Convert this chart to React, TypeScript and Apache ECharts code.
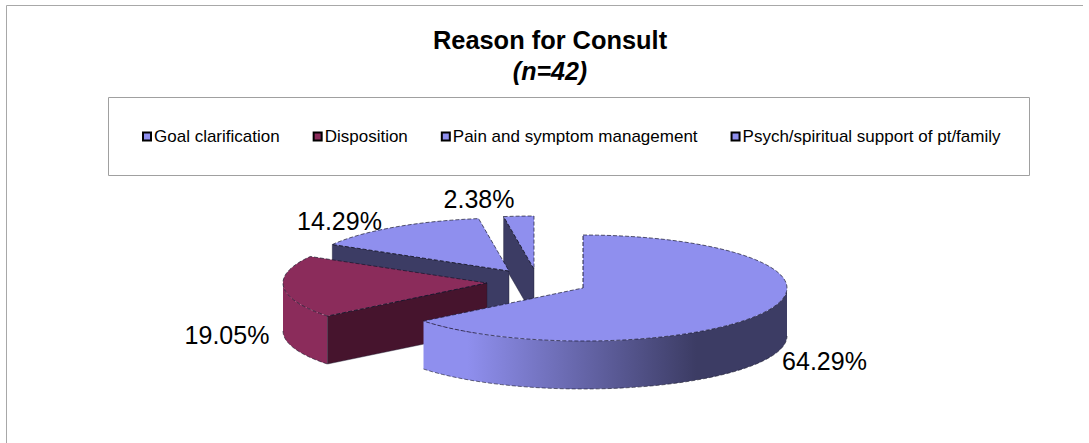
import React, { useEffect, useRef } from "react";
import * as echarts from "echarts";

const categories = [
  "Goal clarification",
  "Disposition",
  "Pain and symptom management",
  "Psych/spiritual support of pt/family",
];
const counts = [27, 8, 6, 1];
const topColors = ["#8f8fee", "#8b2c5b", "#8f8fee", "#8f8fee"];
const faceColors = ["#3c3c64", "#46142d", "#3c3c64", "#3c3c64"];

// Layout of the tilted pie
const apexes = [[583, 288], [487, 283], [509, 271], [534, 269]];
const labelAnchors = [[824.5, 361], [227, 335], [339.5, 221], [479, 199]];
const RX = 204;
const RY = 53;
const DEPTH = 48;
const FONT = "Liberation Sans, Arial, sans-serif";

const total = counts.reduce((a, b) => a + b, 0);
const startAngles = counts.map((_, i) =>
  (counts.slice(0, i).reduce((a, b) => a + b, 0) / total) * 360
);

function rim(cx: number, cy: number, deg: number): number[] {
  const t = (deg * Math.PI) / 180;
  return [cx + RX * Math.sin(t), cy - RY * Math.cos(t)];
}

function arcPts(cx: number, cy: number, a: number, b: number): number[][] {
  const n = Math.max(2, Math.ceil(Math.abs(b - a) / 2));
  const out: number[][] = [];
  for (let k = 0; k <= n; k++) out.push(rim(cx, cy, a + ((b - a) * k) / n));
  return out;
}

function sliceRenderer(i: number) {
  return () => {
    const [cx, cy] = apexes[i];
    const a = startAngles[i];
    const b = a + (counts[i] / total) * 360;
    const children: any[] = [];
    const stroke = "rgba(20,20,40,0.85)";

    // wall of the outer rim, only where it faces the viewer (90..270)
    const wa = Math.max(a, 90);
    const wb = Math.min(b, 270);
    if (wb > wa) {
      const top = arcPts(cx, cy, wa, wb);
      const bottom = top.map(([x, y]) => [x, y + DEPTH]).reverse();
      const xs = top.map((p) => p[0]);
      const span = Math.max(...xs) - Math.min(...xs);
      const isLit = span > 200;
      children.push({
        type: "polygon",
        shape: { points: top.concat(bottom) },
        style: {
          fill: isLit
            ? {
                type: "linear", x: 0, y: 0, x2: 1, y2: 0,
                colorStops: [
                  { offset: 0, color: topColors[i] },
                  { offset: 0.12, color: topColors[i] },
                  { offset: 0.75, color: faceColors[i] },
                  { offset: 1, color: faceColors[i] },
                ],
              }
            : topColors[i],
          stroke: "none",
        },
      });
      children.push({
        type: "polyline",
        shape: { points: bottom },
        style: { fill: "none", stroke, lineWidth: 0.7, lineDash: [4, 2] },
      });
    }

    // cut faces that look toward the viewer
    const faces: number[] = [];
    if (Math.sin((a * Math.PI) / 180) < -1e-6) faces.push(a);
    if (Math.sin((b * Math.PI) / 180) > 1e-6) faces.push(b);
    faces.forEach((deg) => {
      const p = rim(cx, cy, deg);
      children.push({
        type: "polygon",
        shape: {
          points: [[cx, cy], p, [p[0], p[1] + DEPTH], [cx, cy + DEPTH]],
        },
        style: { fill: faceColors[i], stroke: "rgba(30,30,50,0.7)", lineWidth: 0.6 },
      });
    });

    // top face
    const arc = arcPts(cx, cy, a, b);
    children.push({
      type: "polygon",
      shape: { points: [[cx, cy], ...arc] },
      style: { fill: topColors[i], stroke: "none" },
    });
    children.push({
      type: "polyline",
      shape: { points: [[cx, cy], arc[0]] },
      style: { fill: "none", stroke: "#15152a", lineWidth: 0.9, lineDash: [4, 2] },
    });
    children.push({
      type: "polyline",
      shape: { points: arc.concat([[cx, cy]]) },
      style: { fill: "none", stroke, lineWidth: 0.8, lineDash: [4, 2] },
    });

    return { type: "group", children };
  };
}

export default function App() {
  const ref = useRef<HTMLDivElement>(null);
  useEffect(() => {
    const chart = echarts.init(ref.current!, null, { renderer: "svg" });
    // later slices are further back: they get the lower z and are painted first
    const series = counts.map((c, i) => ({
      type: "custom" as const,
      name: categories[i],
      coordinateSystem: "none",
      z: 2 + (counts.length - i),
      silent: true,
      itemStyle: { color: topColors[i] },
      data: [c],
      renderItem: sliceRenderer(i),
    }));
    chart.setOption({
      animation: false,
      backgroundColor: "#ffffff",
      title: {
        text: "Reason for Consult",
        subtext: "(n=42)",
        left: 550,
        top: 27,
        padding: 0,
        textAlign: "center",
        itemGap: 6,
        textStyle: { fontFamily: FONT, fontSize: 25.4, fontWeight: "bold", color: "#000" },
        subtextStyle: {
          fontFamily: FONT, fontSize: 25, fontWeight: "bold", fontStyle: "italic", color: "#000",
        },
      },
      legend: {
        data: categories,
        left: 142,
        top: 128,
        padding: 0,
        itemWidth: 8,
        itemHeight: 8,
        itemGap: 33,
        icon: "rect",
        selectedMode: false,
        itemStyle: { borderColor: "#000", borderWidth: 2 },
        textStyle: { fontFamily: FONT, fontSize: 17, color: "#000", padding: [0, 0, 0, -2] },
      },
      graphic: [
        {
          type: "polyline",
          silent: true,
          shape: { points: [[6.5, 443], [6.5, 5.5], [1083, 5.5]] },
          style: { fill: "none", stroke: "#a8a8a8", lineWidth: 1 },
        },
        {
          type: "rect",
          silent: true,
          shape: { x: 108.5, y: 97.5, width: 921, height: 78 },
          style: { fill: "none", stroke: "#a0a0a0", lineWidth: 1 },
        },
        ...counts.map((c, i) => ({
          type: "text",
          silent: true,
          z: 20,
          x: labelAnchors[i][0],
          y: labelAnchors[i][1],
          style: {
            text: ((c / total) * 100).toFixed(2) + "%",
            fontFamily: FONT,
            fontSize: 25,
            fill: "#000",
            textAlign: "center",
            textVerticalAlign: "middle",
          },
        })),
      ],
      series,
    });
    return () => chart.dispose();
  }, []);
  return (
    <div
      ref={ref}
      style={{ position: "fixed", left: 0, top: 0, width: 1089, height: 443 }}
    />
  );
}
